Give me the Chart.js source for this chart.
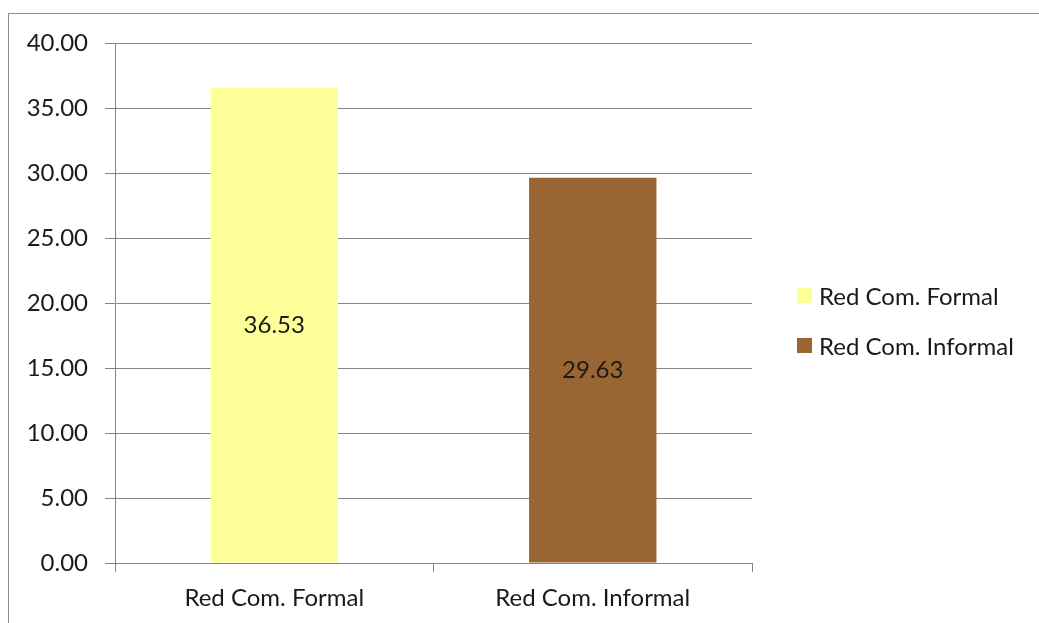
<!DOCTYPE html>
<html>
<head>
<meta charset="utf-8">
<script src="https://cdn.jsdelivr.net/npm/chart.js@4.4.0/dist/chart.umd.min.js"></script>
<style>
  html, body { margin: 0; padding: 0; background: #fff; overflow: hidden; }
  #wrap { position: relative; width: 1039px; height: 623px; font-family: Lato, "Open Sans", sans-serif; }
  #frame { position: absolute; left: 8px; top: 13px; width: 1100px; height: 700px; border: 1px solid #8c8c8c; }
  canvas { position: absolute; left: 0; top: 0; }
  .leg { position: absolute; left: 797px; height: 24px; display: flex; align-items: center; font-size: 24px; color: #1a1a1a; white-space: nowrap; }
  .leg i { display: inline-block; width: 15px; height: 15px; margin-right: 7px; }
</style>
</head>
<body>
<div id="wrap">
  <div id="frame"></div>
  <canvas id="redChart" width="1039" height="623"></canvas>
</div>
<script>
const categories = ['Red Com. Formal', 'Red Com. Informal'];
const values = [36.53, 29.63];
const barColors = ['#ffff99', '#996633'];

const textColor = '#1a1a1a';
const gridColor = '#868686';
Chart.defaults.font.family = 'Lato, "Open Sans", sans-serif';
Chart.defaults.font.size = 24;
Chart.defaults.color = textColor;

// value labels in the middle of each bar
const midLabels = {
    id: 'midLabels',
    afterDatasetsDraw(chart) {
        const ctx = chart.ctx;
        const meta = chart.getDatasetMeta(0);
        ctx.save();
        ctx.font = '24px Lato, "Open Sans", sans-serif';
        ctx.fillStyle = textColor;
        ctx.textAlign = 'center';
        ctx.textBaseline = 'middle';
        meta.data.forEach((bar, i) => {
            ctx.fillText(values[i].toFixed(2), bar.x, (bar.y + bar.base) / 2);
        });
        ctx.restore();
    }
};

new Chart(document.getElementById('redChart'), {
    type: 'bar',
    data: {
        labels: categories,
        datasets: [{ data: values, backgroundColor: barColors, barPercentage: 0.4, categoryPercentage: 1 }]
    },
    options: {
        responsive: false,
        animation: false,
        layout: { padding: { left: 0, top: 43, bottom: 10, right: 287 } },
        plugins: {
            tooltip: { enabled: false },
            legend: { display: false }
        },
        scales: {
            x: {
                grid: { drawOnChartArea: false, drawTicks: true, tickLength: 9, color: gridColor },
                border: { color: gridColor },
                ticks: { padding: 12, color: textColor },
                afterFit: (s) => { s.height = 50; }
            },
            y: {
                min: 0, max: 40,
                ticks: { stepSize: 5, padding: 17, color: textColor, callback: (v) => v.toFixed(2) },
                grid: { color: gridColor, tickLength: 10 },
                border: { color: gridColor },
                afterFit: (s) => { s.width = 115; }
            }
        }
    },
    plugins: [midLabels]
});

// legend on the right, built from the same arrays
const wrap = document.getElementById('wrap');
categories.forEach((name, i) => {
    const item = document.createElement('div');
    item.className = 'leg';
    item.style.top = (283 + i * 50) + 'px';
    item.innerHTML = '<i style="background:' + barColors[i] + '"></i>';
    item.appendChild(document.createTextNode(name));
    wrap.appendChild(item);
});
</script>
</body>
</html>
